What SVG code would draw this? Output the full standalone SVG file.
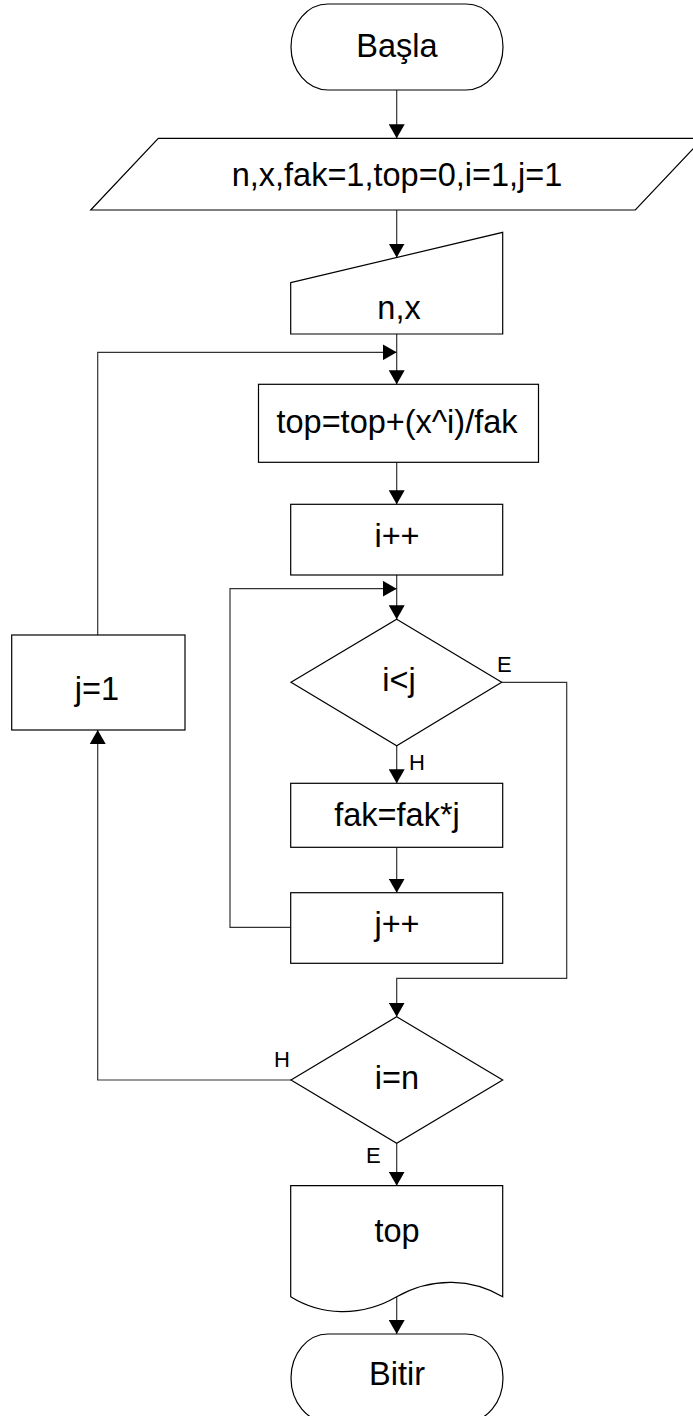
<svg xmlns="http://www.w3.org/2000/svg" width="693" height="1416" viewBox="0 0 693 1416">
<defs>
<style>
.shape{fill:#fff;stroke:#000;stroke-width:1.2}
.conn{fill:none;stroke:#333;stroke-width:1.2}
.t{font-family:"Liberation Sans",Arial,sans-serif;font-size:32.5px;fill:#000;text-anchor:middle}
.lbl{font-family:"Liberation Sans",Arial,sans-serif;font-size:22px;fill:#000}
</style>
<marker id="arr" viewBox="0 0 14 16" refX="14" refY="8" markerWidth="14" markerHeight="16" markerUnits="userSpaceOnUse" orient="auto">
<path d="M0,0 L14,8 L0,16 z" fill="#000"/>
</marker>
</defs>
<rect width="693" height="1416" fill="#fff"/>

<g id="connectors">
<path class="conn" d="M396.7,90 V138.3" marker-end="url(#arr)"/>
<path class="conn" d="M396.7,210 V257.5" marker-end="url(#arr)"/>
<path class="conn" d="M396.7,334 V384.3" marker-end="url(#arr)"/>
<path class="conn" d="M97.7,635 V352.3 H396.7" marker-end="url(#arr)"/>
<path class="conn" d="M396.7,462.3 V504.3" marker-end="url(#arr)"/>
<path class="conn" d="M396.7,575 V619.3" marker-end="url(#arr)"/>
<path class="conn" d="M290.7,927.3 H230 V588.7 H396.7" marker-end="url(#arr)"/>
<path class="conn" d="M396.7,745.7 V783.3" marker-end="url(#arr)"/>
<path class="conn" d="M396.7,847.3 V892.7" marker-end="url(#arr)"/>
<path class="conn" d="M501.7,682.3 H566.7 V978.3 H396.7 V1016.7" marker-end="url(#arr)"/>
<path class="conn" d="M291,1080 H97.7 V730" marker-end="url(#arr)"/>
<path class="conn" d="M396.7,1143.3 V1185.7" marker-end="url(#arr)"/>
<path class="conn" d="M396.7,1296.7 V1334" marker-end="url(#arr)"/>
<text class="lbl" x="497" y="672">E</text>
<text class="lbl" x="409" y="770">H</text>
<text class="lbl" x="274" y="1067">H</text>
<text class="lbl" x="366" y="1163">E</text>
</g>

<g id="start">
<path class="shape" d="M328,4 H466 A37,43 0 0 1 466,90 H328 A37,43 0 0 1 328,4 z"/>
<text class="t" x="397" y="57">Başla</text>
</g>

<g id="init">
<path class="shape" d="M158.3,138.3 H703 L635.3,210 H90.7 z"/>
<text class="t" x="397" y="186">n,x,fak=1,top=0,i=1,j=1</text>
</g>

<g id="input">
<path class="shape" d="M290.7,282.7 L502.7,232.3 V334 H290.7 z"/>
<text class="t" x="399" y="319">n,x</text>
</g>

<g id="sum">
<rect class="shape" x="258.5" y="384.3" width="280" height="78"/>
<text class="t" x="397" y="433">top=top+(x^i)/fak</text>
</g>

<g id="inc-i">
<rect class="shape" x="290.7" y="504.3" width="212" height="70.7"/>
<text class="t" x="397" y="547">i++</text>
</g>

<g id="cond-ij">
<path class="shape" d="M396.7,619.3 L501.7,682.3 L396.7,745.7 L291,682.3 z"/>
<text class="t" x="399" y="691">i&lt;j</text>
</g>

<g id="fak">
<rect class="shape" x="290.7" y="783.3" width="212" height="64"/>
<text class="t" x="397" y="826">fak=fak*j</text>
</g>

<g id="inc-j">
<rect class="shape" x="290.7" y="892.7" width="212" height="70.6"/>
<text class="t" x="397" y="935">j++</text>
</g>

<g id="reset-j">
<rect class="shape" x="11.7" y="635" width="173.3" height="95"/>
<text class="t" x="97" y="700">j=1</text>
</g>

<g id="cond-in">
<path class="shape" d="M396.7,1016.7 L502.7,1080 L396.7,1143.3 L291,1080 z"/>
<text class="t" x="397" y="1089">i=n</text>
</g>

<g id="output">
<path class="shape" d="M290.7,1185.7 H502.7 V1296.7 C473,1279 433,1276 396.7,1296.7 C360,1318 320,1315 290.7,1296.7 z"/>
<text class="t" x="397" y="1242">top</text>
</g>

<g id="end">
<path class="shape" d="M328,1334 H466 A37,44 0 0 1 466,1422 H328 A37,44 0 0 1 328,1334 z"/>
<text class="t" x="397" y="1385">Bitir</text>
</g>
</svg>
